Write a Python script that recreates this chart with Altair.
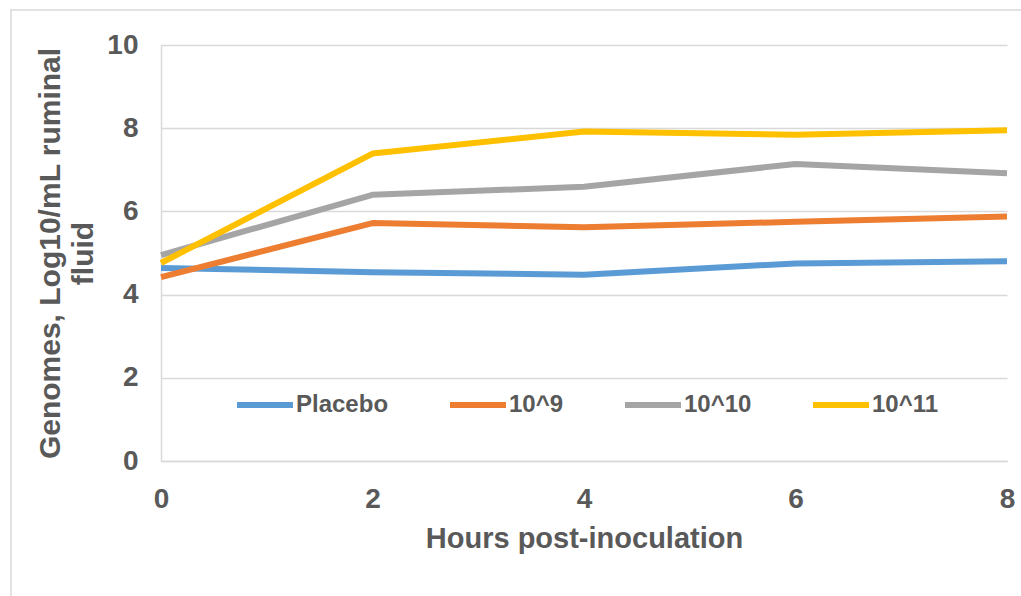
import altair as alt
import pandas as pd

hours = [0, 2, 4, 6, 8]
series_names = ["Placebo", "10^9", "10^10", "10^11"]
placebo = [4.64, 4.54, 4.48, 4.75, 4.80]
dose_9 = [4.42, 5.72, 5.62, 5.75, 5.88]
dose_10 = [4.95, 6.40, 6.59, 7.14, 6.92]
dose_11 = [4.76, 7.39, 7.92, 7.84, 7.95]
colors = ["#5B9BD5", "#ED7D31", "#A5A5A5", "#FFC000"]

rows = []
for name, vals in zip(series_names, [placebo, dose_9, dose_10, dose_11]):
    for h, v in zip(hours, vals):
        rows.append({"Hours": h, "Value": v, "Series": name})
df = pd.DataFrame(rows)

FONT = "Liberation Sans"
GREY = "#595959"
axis_font = dict(labelFont=FONT, labelFontSize=28, labelFontWeight="bold", labelColor=GREY,
                 titleFont=FONT, titleFontWeight="bold", titleColor=GREY)

lines = alt.Chart(df).mark_line(strokeWidth=6, strokeJoin="round", strokeCap="butt").encode(
    x=alt.X("Hours:Q",
            scale=alt.Scale(domain=[0, 8], nice=False, zero=False),
            axis=alt.Axis(values=hours, title="Hours post-inoculation", grid=False,
                          ticks=False, tickSize=0, labelPadding=24, titlePadding=11,
                          labelFlush=False, titleFontSize=29,
                          domainColor="#d9d9d9", domainWidth=1.5, **axis_font)),
    y=alt.Y("Value:Q",
            scale=alt.Scale(domain=[0, 10], nice=False),
            axis=alt.Axis(values=[0, 2, 4, 6, 8, 10],
                          title=["Genomes, Log10/mL ruminal", "fluid"],
                          ticks=False, tickSize=0, labelPadding=23, titlePadding=8,
                          titleLineHeight=33, titleFontSize=30,
                          domainColor="#d9d9d9", domainWidth=1.5,
                          gridColor="#d9d9d9", gridWidth=1.5, **axis_font)),
    color=alt.Color("Series:N",
                    scale=alt.Scale(domain=series_names, range=colors),
                    sort=series_names,
                    legend=alt.Legend(orient="none", legendX=73, legendY=329,
                                      direction="horizontal", title=None,
                                      symbolType="stroke", symbolSize=3136,
                                      symbolStrokeWidth=6, labelOffset=0,
                                      columnPadding=49,
                                      labelFont=FONT, labelFontSize=24,
                                      labelFontWeight="bold", labelColor=GREY)),
)

frame = alt.Chart(pd.DataFrame({"a": [0]})).mark_rect(
    fill=None, stroke="#d9d9d9", strokeWidth=1.5
).encode(x=alt.value(-150), x2=alt.value(900), y=alt.value(-35), y2=alt.value(600))

chart = alt.layer(frame, lines).properties(
    width=846, height=416,
    autosize=alt.AutoSizeParams(type="none"),
    padding={"left": 161, "top": 45, "right": 14, "bottom": 135},
    background="white",
).configure_view(stroke=None)

chart.save("out.html", embed_options={"renderer": "svg", "actions": False})
